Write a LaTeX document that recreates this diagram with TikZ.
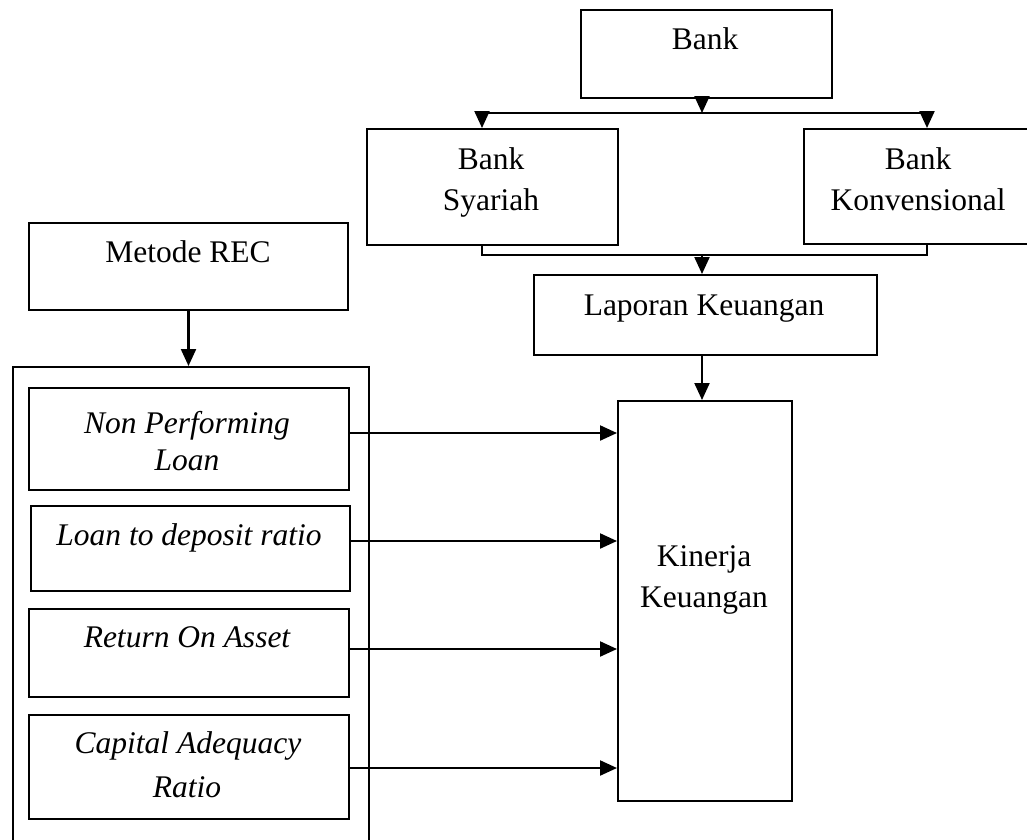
\documentclass[tikz,border=0pt]{standalone}
\usepackage{fontspec}
\setmainfont{Liberation Serif}
\usetikzlibrary{arrows.meta}
\begin{document}
\begin{tikzpicture}[x=1pt,y=-1pt,
 box/.style={draw, line width=2pt, inner sep=0pt, anchor=north west},
 txt/.style={anchor=base, inner sep=0pt, font=\fontsize{31.5}{38}\selectfont},
 itxt/.style={anchor=base, inner sep=0pt, font=\fontsize{31.5}{38}\selectfont\itshape},
 conn/.style={line width=2.2pt},
 arr/.style={conn, -{Triangle[length=17pt,width=15pt]}}]
\clip (0,0) rectangle (1027,839);
\fill[white] (0,0) rectangle (1027,839);
% boxes
\node[box, minimum width=251pt, minimum height=88pt] (bank) at (580,9) {};
\node[box, minimum width=251pt, minimum height=116pt] (syariah) at (366,128) {};
\node[box, minimum width=240pt, minimum height=115pt] (konv) at (803,128) {};
\node[box, minimum width=343pt, minimum height=80pt] (lapor) at (533,274) {};
\node[box, minimum width=174pt, minimum height=400pt] (kinerja) at (617,400) {};
\node[box, minimum width=319pt, minimum height=87pt] (rec) at (28,222) {};
\node[box, minimum width=356pt, minimum height=500pt] (group) at (12,366) {};
\node[box, minimum width=320pt, minimum height=102pt] (npl) at (28,387) {};
\node[box, minimum width=319pt, minimum height=85pt] (ldr) at (30,505) {};
\node[box, minimum width=320pt, minimum height=88pt] (roa) at (28,608) {};
\node[box, minimum width=320pt, minimum height=104pt] (car) at (28,714) {};
% texts
\node[txt] (bankT) at (705,49) {Bank};
\node[txt] (syaT1) at (491,169) {Bank};
\node[txt] (syaT2) at (491,210) {Syariah};
\node[txt] (konT1) at (918,169) {Bank};
\node[txt] (konT2) at (918,210) {Konvensional};
\node[txt] (lapT) at (704,315) {Laporan Keuangan};
\node[txt] (kinT1) at (704,566) {Kinerja};
\node[txt] (kinT2) at (704,607) {Keuangan};
\node[txt] (recT) at (188,262) {Metode REC};
\node[itxt] (nplT1) at (187,433) {Non Performing};
\node[itxt] (nplT2) at (187,470) {Loan};
\node[itxt] (ldrT) at (189,545) {Loan to deposit ratio};
\node[itxt] (roaT) at (187,647) {Return On Asset};
\node[itxt] (carT1) at (188,753) {Capital Adequacy};
\node[itxt] (carT2) at (187,797) {Ratio};
% connectors
\coordinate (split) at (702,113);
\coordinate (sL) at (482,113);
\coordinate (sR) at (927,113);
\coordinate (jL) at (482,255);
\coordinate (jR) at (927,255);
\coordinate (j) at (702,255);
\draw[arr] (bank.south -| split) -- (split);
\draw[conn] (sL) -- (sR);
\draw[arr] (sL) -- (sL |- syariah.north);
\draw[arr] (sR) -- (sR |- konv.north);
\draw[conn] (jL |- syariah.south) -- (jL) -- (jR) -- (jR |- konv.south);
\draw[arr] (j) -- (j |- lapor.north);
\draw[arr] (lapor.south -| j) -- (kinerja.north -| j);
\draw[arr] (rec.south) -- (rec.south |- group.north);
\draw[arr] (npl.east |- 0,433) -- (kinerja.west |- 0,433);
\draw[arr] (ldr.east |- 0,541) -- (kinerja.west |- 0,541);
\draw[arr] (roa.east |- 0,649) -- (kinerja.west |- 0,649);
\draw[arr] (car.east |- 0,768) -- (kinerja.west |- 0,768);
\end{tikzpicture}
\end{document}
